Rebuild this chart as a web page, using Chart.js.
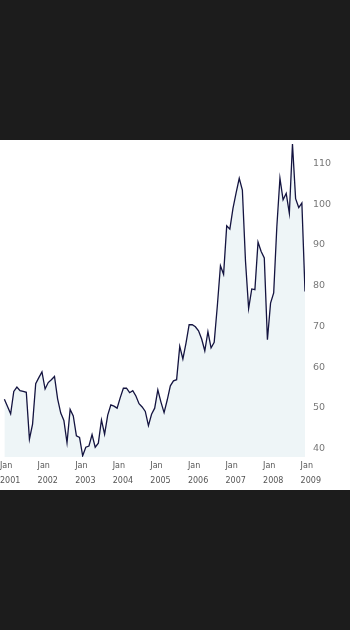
<!DOCTYPE html>
<html>
<head>
<meta charset="utf-8">
<script src="https://cdn.jsdelivr.net/npm/chart.js@4/dist/chart.umd.min.js"></script>
<style>
  html, body { margin: 0; padding: 0; background: #1c1c1c; }
  body { width: 350px; height: 630px; position: relative; overflow: hidden; }
  #panel { position: absolute; left: 0; top: 140px; width: 350px; height: 350px; background: #ffffff; }
</style>
</head>
<body>
<div id="panel"><canvas id="priceChart" width="350" height="350"></canvas></div>
<script>
// Aylık kapanışlar, Şubat 2001'den Şubat 2009'a
const FIRST_MONTH = 1.4; // ilk örneğin Ocak 2001'den uzaklığı (ay)
const PRICES = [
  52.1, 50.3, 48.5, 54.0, 55.1, 54.2, 54.0, 53.8, 42.3, 46.0, 55.9, 57.4,
  58.8, 54.6, 56.2, 56.9, 57.7, 52.2, 48.7, 46.9, 41.4, 49.6, 48.0, 43.1,
  42.7, 38.2, 40.3, 40.6, 43.4, 40.3, 41.3, 47.0, 43.5, 48.2, 50.7, 50.4,
  49.9, 52.5, 54.8, 54.8, 53.7, 54.2, 52.9, 51.0, 50.2, 49.1, 45.6, 48.4,
  49.9, 54.4, 51.4, 48.8, 51.9, 55.4, 56.6, 56.9, 65.1, 62.0, 65.9, 70.4,
  70.4, 69.9, 68.9, 66.9, 64.0, 68.7, 64.7, 66.1, 75.0, 84.9, 82.8, 94.7,
  93.9, 99.0, 102.8, 106.4, 103.5, 86.0, 74.4, 79.2, 79.0, 90.7, 88.4, 86.8,
  66.7, 75.7, 78.2, 94.4, 106.4, 101.1, 102.7, 97.8, 114.8, 101.4, 99.2, 100.3,
  78.6,
];
const YEARS = [2001, 2002, 2003, 2004, 2005, 2006, 2007, 2008, 2009];
const Y_TICKS = [40, 50, 60, 70, 80, 90, 100, 110];
const Y_MIN = 37.9;
const Y_MAX = 115.8;

const LINE = "#141440";
const FILL = "#eef5f7";
const FONT = '"DejaVu Sans", Verdana, sans-serif';

const points = PRICES.map((v, i) => ({ x: FIRST_MONTH + i, y: v }));

new Chart(document.getElementById("priceChart"), {
  type: "line",
  data: {
    datasets: [
      {
        data: points,
        borderColor: LINE,
        borderWidth: 1.3,
        backgroundColor: FILL,
        fill: "start",
        pointRadius: 0,
        tension: 0,
      },
    ],
  },
  options: {
    responsive: false,
    animation: false,
    layout: { padding: 0 },
    plugins: { legend: { display: false }, tooltip: { enabled: false } },
    scales: {
      x: {
        type: "linear",
        min: 0,
        max: FIRST_MONTH + PRICES.length - 1,
        grid: { display: false, drawTicks: false },
        border: { display: false },
        afterBuildTicks: (axis) => {
          axis.ticks = YEARS.map((y, i) => ({ value: i * 12 }));
        },
        afterFit: (axis) => {
          axis.height = 33;
          axis.paddingLeft = 0;
          axis.paddingRight = 0;
        },
        ticks: {
          autoSkip: false,
          maxRotation: 0,
          align: "start",
          padding: 1,
          color: "#555555",
          font: { family: FONT, size: 8, lineHeight: 1.9 },
          callback: (value) => ["Jan", String(YEARS[Math.round(value / 12)])],
        },
      },
      y: {
        position: "right",
        min: Y_MIN,
        max: Y_MAX,
        grid: { display: false, drawTicks: false },
        border: { display: false },
        afterBuildTicks: (axis) => {
          axis.ticks = Y_TICKS.map((v) => ({ value: v }));
        },
        afterFit: (axis) => {
          axis.width = 45;
          axis.paddingTop = 0;
          axis.paddingBottom = 0;
        },
        ticks: {
          padding: 8,
          color: "#777777",
          font: { family: FONT, size: 9.5 },
        },
      },
    },
  },
});
</script>
</body>
</html>
